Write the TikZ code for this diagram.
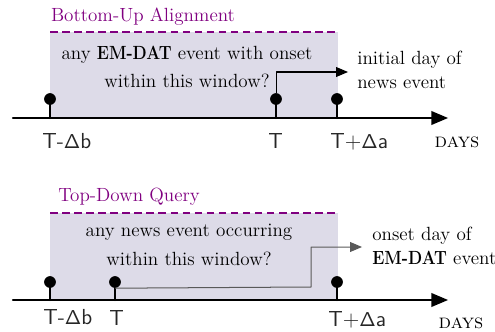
\documentclass[tikz,border=0pt]{standalone}
\usepackage{amsmath}
\usetikzlibrary{arrows}

\definecolor{winfill}{RGB}{221,219,232}
\definecolor{ttlpurple}{RGB}{128,0,128}
\newcommand{\emdat}{\scalebox{0.86}[1]{\textbf{EM-DAT}}}
\newcommand{\bodyfont}{\fontsize{11.4pt}{14pt}\selectfont}

\begin{document}
\begin{tikzpicture}[line cap=round,line join=round,>=triangle 45,x=0.021cm,y=-0.021cm,
  axis/.style={->,line width=1.3pt},
  stem/.style={line width=1.3pt},
  dot/.style={circle,fill=black,inner sep=0pt,minimum size=7pt},
  window/.style={fill=winfill,draw=none},
  wintop/.style={ttlpurple,line width=1.4pt,dash pattern=on 4.5pt off 2.7pt,line cap=butt},
  ttl/.style={text=ttlpurple,font=\bodyfont},
  ask/.style={align=center,font=\bodyfont,inner sep=0pt},
  note/.style={align=left,anchor=west,font=\bodyfont,inner sep=0pt},
  tick/.style={anchor=base west,font=\fontsize{13pt}{16pt}\selectfont\sffamily,text=black!85,inner sep=0pt},
  unit/.style={anchor=base,font=\large\scshape},
  link/.style={->,line width=0.6pt,line cap=butt}]

\useasboundingbox (0,0) rectangle (495,332);

% ---- Bottom-Up Alignment ----
\fill[window] (50,32) rectangle (338,118);
\draw[wintop] (50,32) -- (338,32);
\node[ttl] (ttlA) at (143,17) {Bottom-Up Alignment};
\node[ask] (askA) at (187,67) {any \emdat{} event with onset\\[3pt]within this window?};

\coordinate (startA) at (13,118);
\coordinate (endA) at (448,118);
\draw[axis] (startA) -- (endA);

\node[dot] (a1) at (50,99) {};
\node[dot] (a2) at (276,99) {};
\node[dot] (a3) at (337,99) {};
\coordinate (a1x) at (50,118);
\coordinate (a2x) at (276,118);
\coordinate (a3x) at (337,118);
\draw[stem] (a1.center) -- (a1x);
\draw[stem] (a2.center) -- (a2x);
\draw[stem] (a3.center) -- (a3x);

\node[tick] (la1) at (42,148) {T-$\mathsf{\Delta}$b};
\node[tick] (la2) at (268,148) {T};
\node[tick] (la3) at (330,148) {T+$\mathsf{\Delta}$a};
\node[unit] (daysA) at (457,147) {days};

\node[note] (noteA) at (357,70) {initial day of\\news event};
\coordinate (arrA) at (348,72);
\draw[link] (a2.north) |- (arrA);

% ---- Top-Down Query ----
\fill[window] (50,213) rectangle (338,300);
\draw[wintop] (50,213) -- (338,213);
\node[ttl] (ttlB) at (129,197) {Top-Down Query};
\node[ask] (askB) at (189,245) {any news event occurring\\[3pt]within this window?};

\coordinate (startB) at (13,300);
\coordinate (endB) at (448,300);
\draw[axis] (startB) -- (endB);

\node[dot] (b1) at (50,282) {};
\node[dot] (b2) at (115,282) {};
\node[dot] (b3) at (337,282) {};
\coordinate (b1x) at (50,300);
\coordinate (b2x) at (115,300);
\coordinate (b3x) at (337,300);
\draw[stem] (b1.center) -- (b1x);
\draw[stem] (b2.center) -- (b2x);
\draw[stem] (b3.center) -- (b3x);

\node[tick] (lb1) at (43,324) {T-$\mathsf{\Delta}$b};
\node[tick] (lb2) at (109,325) {T};
\node[tick] (lb3) at (328,326) {T+$\mathsf{\Delta}$a};
\node[unit] (daysB) at (461,328) {days};

\node[note] (noteB) at (372,246) {onset day of\\\emdat{} event};
\coordinate (bendB) at (311,287);
\coordinate (arrB) at (362,247);
\draw[link,black!65] (b2.south) -- (bendB) |- (arrB);

\end{tikzpicture}
\end{document}
